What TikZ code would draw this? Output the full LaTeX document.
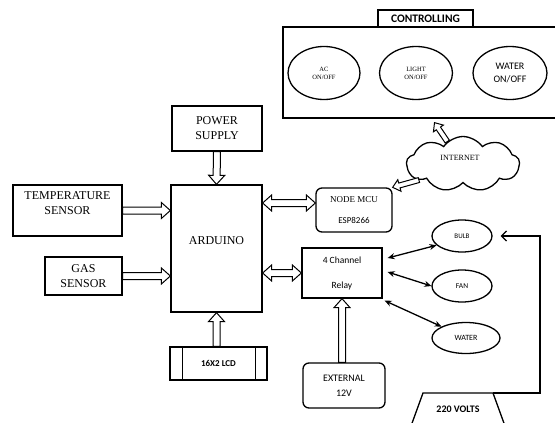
\documentclass[tikz,border=0pt]{standalone}
\usepackage{fontspec}
\setmainfont{Liberation Serif}
\newfontfamily\sansf{Carlito}
\usetikzlibrary{calc,shapes.geometric,shapes.symbols,arrows.meta}
\def\bsh{3.5pt}\def\bhw{8pt}\def\bhl{9pt}
\newcommand{\blkone}[2]{%
 \coordinate (bA) at (#1); \coordinate (bB) at (#2);
 \coordinate (bH) at ($(bB)!\bhl!(bA)$);
 \draw[blk] ($(bA)!\bsh!90:(bB)$) -- ($(bH)!\bsh!90:(bB)$) -- ($(bH)!\bhw!90:(bB)$) -- (bB)
   -- ($(bH)!\bhw!-90:(bB)$) -- ($(bH)!\bsh!-90:(bB)$) -- ($(bA)!\bsh!-90:(bB)$) -- cycle;}
\newcommand{\blktwo}[2]{%
 \coordinate (bA) at (#1); \coordinate (bB) at (#2);
 \coordinate (bH) at ($(bB)!\bhl!(bA)$);
 \coordinate (bG) at ($(bA)!\bhl!(bB)$);
 \draw[blk] (bA) -- ($(bG)!\bhw!90:(bB)$) -- ($(bG)!\bsh!90:(bB)$) -- ($(bH)!\bsh!90:(bB)$)
   -- ($(bH)!\bhw!90:(bB)$) -- (bB) -- ($(bH)!\bhw!-90:(bB)$) -- ($(bH)!\bsh!-90:(bB)$)
   -- ($(bG)!\bsh!-90:(bB)$) -- ($(bG)!\bhw!-90:(bB)$) -- cycle;}
\begin{document}
\begin{tikzpicture}[x=1pt,y=-1pt,
  box/.style={draw, rectangle, line width=1.3pt, inner sep=0pt, align=center},
  rbox/.style={box, rounded corners=6pt},
  ell/.style={draw, ellipse, line width=1.3pt, inner sep=0pt, align=center},
  blk/.style={draw, fill=white, line width=1pt, line join=miter},
  thinarr/.style={{Stealth[length=7pt,width=6pt]}-{Stealth[length=7pt,width=6pt]}, line width=1.3pt},
]
\clip (0,0) rectangle (555,423);
\fill[white] (0,0) rectangle (555,423);

% controlling panel
\node[box, minimum width=275pt, minimum height=91pt] (ctrl) at (420.5,72.5) {};
\node[box, fill=white, minimum width=95pt, minimum height=17pt,
      font=\sansf\bfseries\fontsize{11.5}{12}\selectfont] (ctrllbl) at (425.5,18.5) {CONTROLLING};
\node[ell, minimum width=72pt, minimum height=53pt, font=\fontsize{6.5}{8}\selectfont] (ac) at (324,73) {AC\\ON/OFF};
\node[ell, minimum width=73pt, minimum height=53pt, font=\fontsize{6.5}{8}\selectfont] (light) at (416,73) {LIGHT\\ON/OFF};
\node[ell, minimum width=74pt, minimum height=53pt, font=\sansf\fontsize{10}{13}\selectfont] (wsw) at (510,73) {WATER\\ON/OFF};

% cloud
\node[cloud, draw, line width=1.3pt, cloud puffs=9, cloud puff arc=110, aspect=2,
      minimum width=113pt, minimum height=55pt, inner sep=0pt] (net) at (463,164) {};
\node[font=\fontsize{8}{10}\selectfont] (netT) at (460,158) {INTERNET};

% left side
\node[box, minimum width=90pt, minimum height=45pt, font=\fontsize{12}{15}\selectfont] (power) at (217,128.5) {POWER\\SUPPLY};
\node[box, minimum width=109pt, minimum height=51pt] (temp) at (67.5,210.5) {};
\node[font=\fontsize{12}{15}\selectfont, align=center] (tempT) at (67.5,203.5) {TEMPERATURE\\SENSOR};
\node[box, minimum width=77pt, minimum height=38pt, font=\fontsize{12}{15}\selectfont] (gas) at (83.5,276) {GAS\\SENSOR};
\node[box, minimum width=91pt, minimum height=127pt] (ard) at (216.5,248.5) {};
\node[font=\fontsize{12}{15}\selectfont] (ardT) at (216.5,241) {ARDUINO};
\node[box, minimum width=97pt, minimum height=33pt, font=\sansf\bfseries\fontsize{9}{11}\selectfont] (lcd) at (218.5,363.5) {16X2 LCD};
\draw[line width=1.3pt] ([xshift=13pt]lcd.north west) -- ([xshift=13pt]lcd.south west);
\draw[line width=1.3pt] ([xshift=-12pt]lcd.north east) -- ([xshift=-12pt]lcd.south east);

% middle
\node[rbox, minimum width=76pt, minimum height=44pt] (nmcu) at (354,210) {};
\node[font=\fontsize{9}{10}\selectfont] (nmcuA) at (354,199.5) {NODE MCU};
\node[font=\sansf\fontsize{9}{10}\selectfont] (nmcuB) at (354,220.5) {ESP8266};
\node[box, minimum width=80pt, minimum height=50pt] (relay) at (342,273) {};
\node[font=\sansf\fontsize{9.5}{11}\selectfont] (relayA) at (342,260.5) {4 Channel};
\node[font=\sansf\fontsize{9.5}{11}\selectfont] (relayB) at (342,285.5) {Relay};
\node[rbox, minimum width=82pt, minimum height=45pt, font=\sansf\fontsize{10}{15}\selectfont] (ext) at (344,385.5) {EXTERNAL\\12V};

% loads
\node[ell, minimum width=60pt, minimum height=32pt, font=\sansf\fontsize{7}{8}\selectfont] (bulb) at (462,236) {BULB};
\node[ell, minimum width=60pt, minimum height=32pt, font=\sansf\fontsize{7.5}{8}\selectfont] (fan) at (462,286) {FAN};
\node[ell, minimum width=68pt, minimum height=31pt, font=\sansf\fontsize{8}{9}\selectfont] (wat) at (466,338) {WATER};

% 220 V supply
\coordinate (vtl) at (423,393); \coordinate (vtr) at (493,393);
\coordinate (vbr) at (505,426); \coordinate (vbl) at (411,426);
\draw[line width=1.3pt] (vbl) -- (vtl) -- (vtr) -- (vbr);
\node[font=\sansf\bfseries\fontsize{10}{12}\selectfont] (volts) at (458,409) {220 VOLTS};
\coordinate (vc) at (540,393);
\draw[line width=1.3pt, -{Straight Barb[length=5pt,width=10pt]}, shorten >=8pt] (vtr) -- (vc) |- (bulb.east);

% block arrows
\blkone{power.south}{ard.north}
\blkone{temp.east}{temp.east -| ard.west}
\blkone{gas.east}{gas.east -| ard.west}
\blkone{ard.south |- lcd.north}{ard.south}
\blkone{ext.north -| relay.south}{relay.south}
\coordinate (m1) at ([yshift=7pt]nmcu.west);
\blktwo{ard.east |- m1}{m1}
\blktwo{ard.east |- relay.west}{relay.west}
\def\bsh{2.5pt}\def\bhw{6pt}\def\bhl{7pt}
\blkone{net.200}{nmcu.north east}
\coordinate (c2) at ([xshift=14pt,yshift=-4pt]ctrl.south);
\blkone{net.125}{c2}

% relay to loads
\draw[thinarr] ([xshift=5pt,yshift=15pt]relay.east) -- (bulb.200);
\draw[thinarr] ([xshift=5pt,yshift=1pt]relay.east) -- (fan.west);
\draw[thinarr] ([xshift=2pt,yshift=-2pt]relay.south east) -- (wat.155);
\end{tikzpicture}
\end{document}
